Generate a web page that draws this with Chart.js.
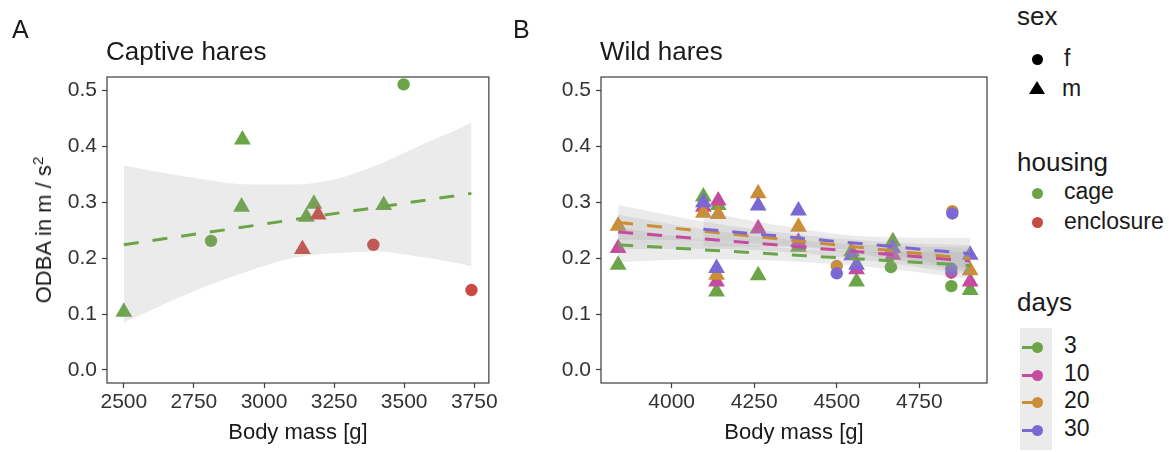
<!DOCTYPE html>
<html>
<head>
<meta charset="utf-8">
<script src="https://cdn.jsdelivr.net/npm/chart.js@4.4.0/dist/chart.umd.min.js"></script>
<style>
  html, body { margin: 0; padding: 0; background: #fff; }
  body { width: 1169px; height: 452px; position: relative; overflow: hidden;
         font-family: "Liberation Sans", Arial, sans-serif; color: #1a1a1a; }
  .txt { position: absolute; line-height: 1; white-space: nowrap; }
  .big { font-size: 26px; }
  .lab { font-size: 23px; }
  canvas { position: absolute; top: 0; }
  .dot { position: absolute; width: 11px; height: 11px; border-radius: 50%; }
  .tri { position: absolute; width: 0; height: 0; border-left: 8px solid transparent;
         border-right: 8px solid transparent; border-bottom: 13px solid #000; }
  .keybox { position: absolute; left: 1020px; top: 328px; width: 32px; height: 122px; background: #ebebeb; }
  .keyline { position: absolute; left: 1022px; width: 12px; height: 3px; }
  #ytitle { position: absolute; left: 43.5px; top: 230px; font-size: 22px; line-height: 1; white-space: nowrap;
            transform: translate(-50%, -50%) rotate(-90deg); }
  #ytitle sup { font-size: 0.7em; position: relative; top: -0.55em; vertical-align: baseline; line-height: 0; }
</style>
</head>
<body>
<canvas id="captive" width="500" height="452" style="left:0"></canvas>
<canvas id="wild" width="500" height="452" style="left:500px"></canvas>

<div class="txt" style="left:12px; top:17px; font-size:25px">A</div>
<div class="txt big" style="left:106px; top:38px">Captive hares</div>
<div class="txt" style="left:513px; top:17px; font-size:25px">B</div>
<div class="txt big" style="left:600px; top:38px">Wild hares</div>
<div id="ytitle">ODBA in m / s<sup>2</sup></div>

<div class="txt big" style="left:1017px; top:3px">sex</div>
<div class="dot" style="left:1031.5px; top:53.5px; background:#000"></div>
<div class="txt lab" style="left:1064px; top:47px">f</div>
<div class="tri" style="left:1029px; top:81px"></div>
<div class="txt lab" style="left:1062px; top:77px">m</div>

<div class="txt big" style="left:1017px; top:149px">housing</div>
<div class="dot" id="kCage" style="left:1031.5px; top:187.5px"></div>
<div class="txt lab" style="left:1064px; top:180px">cage</div>
<div class="dot" id="kEncl" style="left:1031.5px; top:216.5px"></div>
<div class="txt lab" style="left:1064px; top:210px">enclosure</div>

<div class="txt big" style="left:1017px; top:289px">days</div>
<div class="keybox"></div>
<div id="dayKeys"></div>

<script>
// ---- panel A: captive hares ----
const captiveMass    = [2500, 2811, 2923, 2920, 3178, 3151, 3193, 3137, 3390, 3427, 3498, 3740];
const captiveOdba    = [0.104, 0.231, 0.412, 0.292, 0.297, 0.274, 0.278, 0.216, 0.224, 0.295, 0.511, 0.143];
const captiveSex     = ['m', 'f', 'm', 'm', 'm', 'm', 'm', 'm', 'f', 'm', 'f', 'f'];
const captiveHousing = ['cage', 'cage', 'cage', 'cage', 'cage', 'cage', 'enclosure', 'enclosure', 'enclosure', 'cage', 'cage', 'enclosure'];
const captiveFitMass = [2500, 3740];
const captiveFitOdba = [0.224, 0.316];
const captiveBandMass  = [2500, 2650, 2800, 2950, 3100, 3250, 3400, 3550, 3700, 3740];
const captiveBandUpper = [0.366, 0.352, 0.340, 0.332, 0.332, 0.341, 0.366, 0.400, 0.433, 0.443];
const captiveBandLower = [0.085, 0.119, 0.151, 0.178, 0.200, 0.209, 0.212, 0.203, 0.190, 0.185];
const captiveTicks = [2500, 2750, 3000, 3250, 3500, 3750];

// ---- panel B: wild hares, one set per recording length (days) ----
const days = ['3', '10', '20', '30'];
const mass3  = [3838, 4096, 4141, 4136, 4262, 4384, 4545, 4560, 4664, 4670, 4847, 4904];
const odba3  = [0.188, 0.310, 0.295, 0.140, 0.169, 0.220, 0.212, 0.158, 0.184, 0.230, 0.150, 0.143];
const sex3   = ['m', 'm', 'm', 'm', 'm', 'm', 'm', 'm', 'f', 'm', 'f', 'm'];
const mass10 = [3838, 4096, 4141, 4136, 4262, 4384, 4560, 4670, 4847, 4904];
const odba10 = [0.218, 0.292, 0.303, 0.158, 0.253, 0.229, 0.180, 0.206, 0.174, 0.158];
const sex10  = ['m', 'm', 'm', 'm', 'm', 'm', 'm', 'm', 'f', 'm'];
const mass20 = [3838, 4096, 4141, 4136, 4262, 4384, 4500, 4850, 4904];
const odba20 = [0.258, 0.281, 0.279, 0.170, 0.316, 0.256, 0.186, 0.284, 0.178];
const sex20  = ['m', 'm', 'm', 'm', 'm', 'm', 'f', 'f', 'm'];
const mass30 = [4096, 4136, 4262, 4384, 4500, 4545, 4560, 4670, 4847, 4850, 4904];
const odba30 = [0.300, 0.182, 0.294, 0.285, 0.173, 0.205, 0.188, 0.218, 0.181, 0.280, 0.206];
const sex30  = ['m', 'm', 'm', 'm', 'f', 'm', 'm', 'm', 'f', 'f', 'm'];

const fitMass3  = [3838, 4904], fitOdba3  = [0.224, 0.187];
const fitMass10 = [3838, 4904], fitOdba10 = [0.247, 0.195];
const fitMass20 = [3838, 4904], fitOdba20 = [0.264, 0.199];
const fitMass30 = [4096, 4904], fitOdba30 = [0.252, 0.208];

const bandMass    = [3838, 4100, 4400, 4650, 4904];
const bandUpper3  = [0.255, 0.232, 0.216, 0.211, 0.211];
const bandLower3  = [0.193, 0.198, 0.193, 0.181, 0.163];
const bandUpper10 = [0.278, 0.251, 0.231, 0.222, 0.219];
const bandLower10 = [0.216, 0.217, 0.209, 0.192, 0.171];
const bandUpper20 = [0.295, 0.265, 0.241, 0.229, 0.223];
const bandLower20 = [0.233, 0.231, 0.219, 0.200, 0.175];
const bandMass30  = [4096, 4300, 4520, 4700, 4904];
const bandUpper30 = [0.283, 0.261, 0.242, 0.237, 0.236];
const bandLower30 = [0.221, 0.221, 0.216, 0.201, 0.180];
const wildTicks = [4000, 4250, 4500, 4750];

const odbaTicks = [0, 0.1, 0.2, 0.3, 0.4, 0.5];

// ---- styles ----
const FONT = '"Liberation Sans", Arial, sans-serif';
const AXIS = '#3c3c3c';
const TICK = '#333333';
const BAND = 'rgba(153,153,153,0.2)';
const housingColors = { cage: '#6BA547', enclosure: '#C94A45' };
const dayColors = { '3': '#6BA547', '10': '#C64A9F', '20': '#CC8E35', '30': '#7B68D4' };

document.getElementById('kCage').style.background = housingColors.cage;
document.getElementById('kEncl').style.background = housingColors.enclosure;
const keyY = [347, 375, 402, 430];
const keys = document.getElementById('dayKeys');
days.forEach((d, i) => {
  keys.insertAdjacentHTML('beforeend',
    `<div class="keyline" style="top:${keyY[i] - 1.5}px; background:${dayColors[d]}"></div>` +
    `<div class="dot" style="left:1031.5px; top:${keyY[i] - 5.5}px; background:${dayColors[d]}"></div>` +
    `<div class="txt lab" style="left:1064px; top:${keyY[i] - 13}px">${d}</div>`);
});

const pts = (xs, ys) => xs.map((x, i) => ({ x: x, y: ys[i] }));
const shapeOf = s => s === 'f' ? 'circle' : 'triangle';
const sizeOf = s => s === 'f' ? 6.2 : 9.7;

function pointSet(xs, ys, sex, color, order) {
  return {
    type: 'scatter', data: pts(xs, ys), order: order,
    backgroundColor: color, borderWidth: 0,
    pointStyle: sex.map(shapeOf), pointRadius: sex.map(sizeOf), pointHoverRadius: sex.map(sizeOf)
  };
}
function fitLine(xs, ys, color) {
  return {
    type: 'line', data: pts(xs, ys), order: 0, borderColor: color, borderWidth: 3,
    borderDash: [15, 14], borderCapStyle: 'butt', pointRadius: 0, fill: false
  };
}
function bandPair(xs, up, lo) {
  const common = { type: 'line', order: 1, borderWidth: 0, borderColor: 'rgba(0,0,0,0)',
                   pointRadius: 0, cubicInterpolationMode: 'monotone' };
  return [
    Object.assign({ data: pts(xs, up), fill: '+1', backgroundColor: BAND }, common),
    Object.assign({ data: pts(xs, lo), fill: false }, common)
  ];
}

const framePlugin = {
  id: 'frame',
  afterDatasetsDraw(chart) {
    const { ctx, chartArea: a } = chart;
    ctx.save();
    ctx.strokeStyle = AXIS;
    ctx.lineWidth = 1.2;
    ctx.strokeRect(a.left, a.top, a.right - a.left, a.bottom - a.top);
    ctx.restore();
  }
};

function scales(xMin, xMax, xTicks, yWidth) {
  const grid = { drawOnChartArea: false, drawTicks: true, tickLength: 5, tickColor: AXIS, tickWidth: 1.2 };
  return {
    x: {
      type: 'linear', min: xMin, max: xMax,
      afterBuildTicks: s => { s.ticks = xTicks.map(v => ({ value: v })); },
      afterFit: s => { s.height = 69; },
      grid: grid, border: { display: false },
      ticks: { color: TICK, font: { family: FONT, size: 21 }, padding: 2, maxRotation: 0, callback: v => String(v) },
      title: { display: true, text: 'Body mass [g]', color: '#1a1a1a',
               font: { family: FONT, size: 22 }, padding: { top: 0, bottom: 6 } }
    },
    y: {
      type: 'linear', min: -0.0233, max: 0.5242,
      afterBuildTicks: s => { s.ticks = odbaTicks.map(v => ({ value: v })); },
      afterFit: s => { s.width = yWidth; },
      grid: grid, border: { display: false },
      ticks: { color: TICK, font: { family: FONT, size: 21 }, padding: 5, callback: v => Number(v).toFixed(1) }
    }
  };
}

const baseOptions = (padRight, sc) => ({
  responsive: false, animation: false, devicePixelRatio: 1,
  layout: { padding: { top: 77, right: padRight, bottom: 0, left: 0 } },
  plugins: { legend: { display: false }, tooltip: { enabled: false } },
  scales: sc
});

// panel A
const cageIdx = captiveHousing.map((h, i) => h === 'cage' ? i : -1).filter(i => i >= 0);
const enclIdx = captiveHousing.map((h, i) => h === 'enclosure' ? i : -1).filter(i => i >= 0);
const pick = (arr, idx) => idx.map(i => arr[i]);

new Chart(document.getElementById('captive'), {
  type: 'scatter',
  data: {
    datasets: [
      fitLine(captiveFitMass, captiveFitOdba, housingColors.cage),
      ...bandPair(captiveBandMass, captiveBandUpper, captiveBandLower),
      pointSet(pick(captiveMass, enclIdx), pick(captiveOdba, enclIdx), pick(captiveSex, enclIdx), housingColors.enclosure, 2),
      pointSet(pick(captiveMass, cageIdx), pick(captiveOdba, cageIdx), pick(captiveSex, cageIdx), housingColors.cage, 3)
    ]
  },
  options: baseOptions(7, scales(2440, 3802, captiveTicks, 107)),
  plugins: [framePlugin]
});

// panel B
new Chart(document.getElementById('wild'), {
  type: 'scatter',
  data: {
    datasets: [
      fitLine(fitMass30, fitOdba30, dayColors['30']),
      fitLine(fitMass20, fitOdba20, dayColors['20']),
      fitLine(fitMass10, fitOdba10, dayColors['10']),
      fitLine(fitMass3, fitOdba3, dayColors['3']),
      ...bandPair(bandMass30, bandUpper30, bandLower30),
      ...bandPair(bandMass, bandUpper20, bandLower20),
      ...bandPair(bandMass, bandUpper10, bandLower10),
      ...bandPair(bandMass, bandUpper3, bandLower3),
      pointSet(mass30, odba30, sex30, dayColors['30'], 2),
      pointSet(mass20, odba20, sex20, dayColors['20'], 3),
      pointSet(mass10, odba10, sex10, dayColors['10'], 4),
      pointSet(mass3, odba3, sex3, dayColors['3'], 5)
    ]
  },
  options: baseOptions(13, scales(3786, 4955, wildTicks, 101)),
  plugins: [framePlugin]
});
</script>
</body>
</html>
